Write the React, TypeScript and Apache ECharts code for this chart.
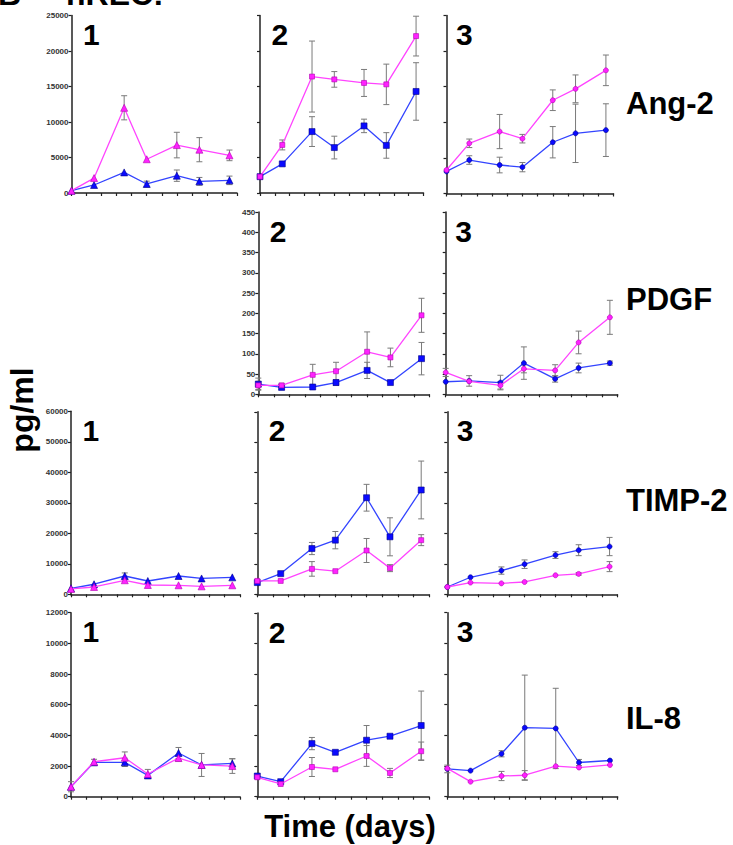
import React, { useEffect, useRef } from "react";
import * as echarts from "echarts";

const DAYS = [0, 1.5, 3.5, 5, 7, 8.5, 10.5];
const ROW_LABELS = ["Ang-2", "PDGF", "TIMP-2", "IL-8"];

// Ang-2
const ANG1_PINK = [330, 2100, 12000, 4750, 6750, 6100, 5300];
const ANG1_PINK_ERR = [0, 0, 1700, 0, 1800, 1700, 750];
const ANG1_BLUE = [330, 1130, 2900, 1270, 2440, 1640, 1780];
const ANG1_BLUE_ERR = [0, 0, 0, 400, 800, 550, 600];
const ANG2_PINK = [2300, 6770, 16400, 16000, 15500, 15300, 22100];
const ANG2_PINK_ERR = [0, 700, 5000, 1100, 1900, 2850, 2800];
const ANG2_BLUE = [2300, 4100, 8650, 6400, 9450, 6700, 14300];
const ANG2_BLUE_ERR = [0, 0, 2100, 1600, 950, 1800, 4050];
const ANG3_PINK = [3300, 7050, 8700, 7700, 13100, 14700, 17300];
const ANG3_PINK_ERR = [0, 600, 2400, 600, 1450, 1950, 2150];
const ANG3_BLUE = [3100, 4700, 4000, 3700, 7200, 8450, 8900];
const ANG3_BLUE_ERR = [0, 600, 1100, 650, 2200, 4100, 3700];

// PDGF
const PDGF2_PINK = [22, 22, 48, 57, 105, 91, 195];
const PDGF2_PINK_ERR = [10, 5, 26, 22, 49, 23, 42];
const PDGF2_BLUE = [25, 17, 18, 29, 59, 29, 88];
const PDGF2_BLUE_ERR = [15, 5, 0, 7, 20, 0, 40];
const PDGF3_PINK = [54, 32, 22, 63, 59, 128, 190];
const PDGF3_PINK_ERR = [10, 0, 9, 10, 14, 28, 42];
const PDGF3_BLUE = [31, 33, 29, 77, 38, 65, 77];
const PDGF3_BLUE_ERR = [0, 13, 18, 40, 8, 12, 5];

// TIMP-2
const TIMP1_PINK = [1750, 2400, 4600, 3050, 2950, 2600, 2950];
const TIMP1_PINK_ERR = [0, 0, 0, 0, 0, 0, 0];
const TIMP1_BLUE = [1960, 3300, 6000, 4360, 6000, 5200, 5550];
const TIMP1_BLUE_ERR = [0, 0, 1000, 0, 0, 0, 0];
const TIMP2_PINK = [4400, 4400, 8350, 7600, 14400, 8600, 17800];
const TIMP2_PINK_ERR = [0, 0, 2400, 0, 3950, 1150, 1800];
const TIMP2_BLUE = [3850, 6800, 15050, 17800, 31750, 18900, 34300];
const TIMP2_BLUE_ERR = [0, 0, 2000, 2850, 4400, 6250, 9500];
const TIMP3_PINK = [2400, 3850, 3600, 4050, 6250, 6700, 9100];
const TIMP3_PINK_ERR = [0, 0, 0, 0, 0, 400, 1650];
const TIMP3_BLUE = [2400, 5600, 7800, 9900, 12900, 14500, 15700];
const TIMP3_BLUE_ERR = [0, 0, 1200, 1400, 1100, 1800, 3000];

// IL-8
const IL1_PINK = [650, 2280, 2540, 1480, 2520, 2070, 2000];
const IL1_PINK_ERR = [0, 0, 380, 300, 200, 750, 480];
const IL1_BLUE = [650, 2240, 2240, 1390, 2850, 2070, 2170];
const IL1_BLUE_ERR = [330, 200, 270, 0, 360, 0, 300];
const IL2_PINK = [1270, 830, 1940, 1790, 2660, 1550, 2970];
const IL2_PINK_ERR = [0, 0, 620, 0, 680, 300, 600];
const IL2_BLUE = [1350, 980, 3470, 2900, 3690, 3950, 4650];
const IL2_BLUE_ERR = [0, 0, 400, 0, 960, 0, 2250];
const IL3_PINK = [1850, 980, 1350, 1400, 1990, 1900, 2070];
const IL3_PINK_ERR = [0, 0, 300, 300, 0, 0, 0];
const IL3_BLUE = [1810, 1700, 2800, 4500, 4450, 2230, 2360];
const IL3_BLUE_ERR = [250, 0, 200, 3430, 2620, 200, 0];

const ROW_SCALES = [
  { max: 25000, step: 5000 },
  { max: 450, step: 50 },
  { max: 60000, step: 10000 },
  { max: 12000, step: 2000 },
];

const SYMBOLS = ["triangle", "rect", "circle"];
const SYM_SIZE = [7, 6, 5];

type Panel = {
  row: number; col: number; left: number; top: number; width: number; height: number;
  labels: boolean; pink: number[]; pinkErr: number[]; blue: number[]; blueErr: number[];
};

const PANELS: Panel[] = [
  { row: 0, col: 0, left: 71.5, top: 15.5, width: 165.5, height: 177.5, labels: true, pink: ANG1_PINK, pinkErr: ANG1_PINK_ERR, blue: ANG1_BLUE, blueErr: ANG1_BLUE_ERR },
  { row: 0, col: 1, left: 260, top: 15.5, width: 163.5, height: 177.5, labels: false, pink: ANG2_PINK, pinkErr: ANG2_PINK_ERR, blue: ANG2_BLUE, blueErr: ANG2_BLUE_ERR },
  { row: 0, col: 2, left: 446.5, top: 15.5, width: 167, height: 178, labels: false, pink: ANG3_PINK, pinkErr: ANG3_PINK_ERR, blue: ANG3_BLUE, blueErr: ANG3_BLUE_ERR },
  { row: 1, col: 1, left: 258.3, top: 212, width: 171, height: 182.3, labels: true, pink: PDGF2_PINK, pinkErr: PDGF2_PINK_ERR, blue: PDGF2_BLUE, blueErr: PDGF2_BLUE_ERR },
  { row: 1, col: 2, left: 445.7, top: 212, width: 172, height: 182.3, labels: false, pink: PDGF3_PINK, pinkErr: PDGF3_PINK_ERR, blue: PDGF3_BLUE, blueErr: PDGF3_BLUE_ERR },
  { row: 2, col: 0, left: 71, top: 411.3, width: 169, height: 183, labels: true, pink: TIMP1_PINK, pinkErr: TIMP1_PINK_ERR, blue: TIMP1_BLUE, blueErr: TIMP1_BLUE_ERR },
  { row: 2, col: 1, left: 257.3, top: 411.8, width: 171.7, height: 182.5, labels: false, pink: TIMP2_PINK, pinkErr: TIMP2_PINK_ERR, blue: TIMP2_BLUE, blueErr: TIMP2_BLUE_ERR },
  { row: 2, col: 2, left: 447.3, top: 411.8, width: 170, height: 182.5, labels: false, pink: TIMP3_PINK, pinkErr: TIMP3_PINK_ERR, blue: TIMP3_BLUE, blueErr: TIMP3_BLUE_ERR },
  { row: 3, col: 0, left: 71, top: 612.7, width: 169, height: 184, labels: true, pink: IL1_PINK, pinkErr: IL1_PINK_ERR, blue: IL1_BLUE, blueErr: IL1_BLUE_ERR },
  { row: 3, col: 1, left: 257.3, top: 613, width: 171.7, height: 183.7, labels: false, pink: IL2_PINK, pinkErr: IL2_PINK_ERR, blue: IL2_BLUE, blueErr: IL2_BLUE_ERR },
  { row: 3, col: 2, left: 447.3, top: 612.7, width: 170.4, height: 184, labels: false, pink: IL3_PINK, pinkErr: IL3_PINK_ERR, blue: IL3_BLUE, blueErr: IL3_BLUE_ERR },
];

const FONT = "Liberation Sans, Arial, sans-serif";
const PINK = "#ff22ff";
const PINK_DARK = "#b000b0";
const BLUE = "#0a0aff";
const BLUE_DARK = "#00008a";
const ERR_COLOR = "#7a7a7a";

function errData(vals: number[], errs: number[]) {
  const out: number[][] = [];
  vals.forEach((v, i) => {
    if (errs[i] > 0) out.push([DAYS[i], v - errs[i], v + errs[i]]);
  });
  return out;
}

const errRender = (params: any, api: any) => {
  const x = api.value(0);
  const lo = api.coord([x, api.value(1)]);
  const hi = api.coord([x, api.value(2)]);
  const c = 3;
  const st = { stroke: ERR_COLOR, lineWidth: 1 };
  return {
    type: "group",
    children: [
      { type: "line", shape: { x1: lo[0], y1: lo[1], x2: hi[0], y2: hi[1] }, style: st },
      { type: "line", shape: { x1: lo[0] - c, y1: lo[1], x2: lo[0] + c, y2: lo[1] }, style: st },
      { type: "line", shape: { x1: hi[0] - c, y1: hi[1], x2: hi[0] + c, y2: hi[1] }, style: st },
    ],
  };
};

export default function App() {
  const ref = useRef<HTMLDivElement>(null);
  useEffect(() => {
    if (!ref.current) return;
    const chart = echarts.init(ref.current, null, { renderer: "svg" });
    const grid: any[] = [];
    const xAxis: any[] = [];
    const yAxis: any[] = [];
    const series: any[] = [];
    const graphic: any[] = [];
    PANELS.forEach((p, i) => {
      grid.push({ left: p.left, top: p.top, width: p.width, height: p.height, containLabel: false });
      xAxis.push({
        type: "value", gridIndex: i, min: 0, max: 11, interval: 1,
        axisLine: { show: true, onZero: false, lineStyle: { color: "#222", width: 1.5 } },
        axisTick: { show: true, length: 3, lineStyle: { color: "#222", width: 1.2 } },
        axisLabel: { show: false }, splitLine: { show: false },
      });
      const sc = ROW_SCALES[p.row];
      yAxis.push({
        type: "value", gridIndex: i, min: 0, max: sc.max, interval: sc.step,
        axisLine: { show: true, lineStyle: { color: "#222", width: 1.5 } },
        axisTick: { show: true, length: 3, lineStyle: { color: "#222", width: 1.2 } },
        axisLabel: {
          show: p.labels, fontSize: 8, fontWeight: "bold", color: "#333", fontFamily: FONT, margin: 3,
          formatter: (v: number) => String(v),
        },
        splitLine: { show: false },
      });
      const sym = SYMBOLS[p.col];
      const ss = SYM_SIZE[p.col];
      series.push({
        type: "custom", xAxisIndex: i, yAxisIndex: i, z: 1, silent: true,
        renderItem: errRender, data: errData(p.blue, p.blueErr), clip: false,
      });
      series.push({
        type: "custom", xAxisIndex: i, yAxisIndex: i, z: 1, silent: true,
        renderItem: errRender, data: errData(p.pink, p.pinkErr), clip: false,
      });
      series.push({
        type: "line", xAxisIndex: i, yAxisIndex: i, z: 3,
        data: DAYS.map((d, k) => [d, p.blue[k]]),
        symbol: sym, symbolSize: ss, showSymbol: true,
        lineStyle: { color: "#3344ff", width: 1.3 },
        itemStyle: { color: BLUE, borderColor: BLUE_DARK, borderWidth: 0.6 },
      });
      series.push({
        type: "line", xAxisIndex: i, yAxisIndex: i, z: 4,
        data: DAYS.map((d, k) => [d, p.pink[k]]),
        symbol: sym, symbolSize: p.col === 1 ? 5 : ss, showSymbol: true,
        lineStyle: { color: "#ff44ff", width: 1.3 },
        itemStyle: { color: PINK, borderColor: PINK_DARK, borderWidth: 0.6 },
      });
      graphic.push({
        type: "text", left: p.left + (p.col === 2 ? 9.5 : 11.5), top: p.top + 4,
        style: { text: String(p.col + 1), fontSize: 30, fontWeight: "bold", fontFamily: FONT, fill: "#000" },
      });
    });
    const rowY = [103.5, 299, 500.5, 718.5];
    ROW_LABELS.forEach((t, r) => {
      graphic.push({
        type: "text", x: 626, y: rowY[r],
        style: { text: t, fontSize: 31, fontWeight: "bold", fontFamily: FONT, fill: "#000", verticalAlign: "middle", align: "left" },
      });
    });
    graphic.push({
      type: "text", x: 350, y: 826,
      style: { text: "Time (days)", fontSize: 31, fontWeight: "bold", fontFamily: FONT, fill: "#000", align: "center", verticalAlign: "middle" },
    });
    graphic.push({
      type: "text", x: 22, y: 410, rotation: Math.PI / 2,
      style: { text: "pg/ml", fontSize: 32, fontWeight: "bold", fontFamily: FONT, fill: "#000", align: "center", verticalAlign: "middle" },
    });
    graphic.push({
      type: "text", x: -2, y: -6,
      style: { text: "B", fontSize: 32, fontWeight: "bold", fontFamily: FONT, fill: "#000", align: "left", verticalAlign: "middle" },
    });
    graphic.push({
      type: "text", x: 66, y: -6,
      style: { text: "hREC:", fontSize: 32, fontWeight: "bold", fontFamily: FONT, fill: "#000", align: "left", verticalAlign: "middle" },
    });
    chart.setOption({ animation: false, backgroundColor: "#fff", grid, xAxis, yAxis, series, graphic });
    return () => chart.dispose();
  }, []);
  return <div ref={ref} style={{ position: "fixed", left: 0, top: 0, width: 733, height: 845 }} />;
}
